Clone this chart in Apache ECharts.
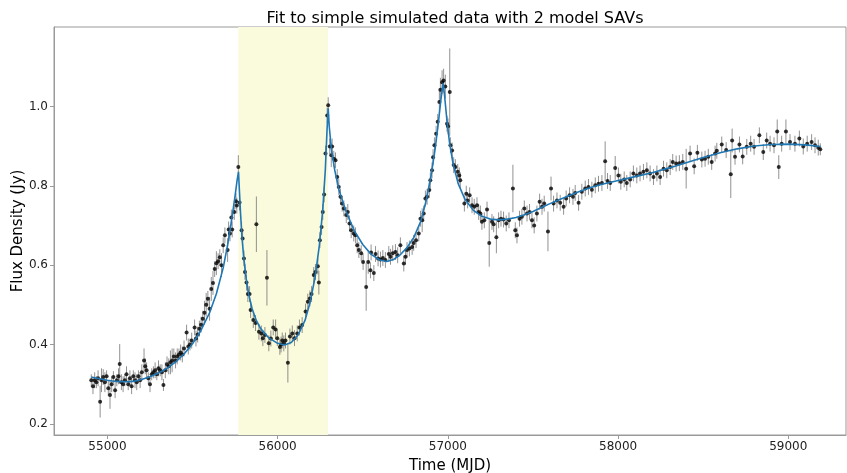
<!DOCTYPE html>
<html>
<head>
<meta charset="utf-8">
<script src="https://cdn.jsdelivr.net/npm/echarts@6/dist/echarts.min.js"></script>
<style>
  html, body { margin: 0; padding: 0; background: #fff; }
  #chart { width: 847px; height: 473px; }
</style>
</head>
<body>
<div id="chart"></div>
<script>
// tick positions
const xTicks = [55000, 56000, 57000, 58000, 59000]
const yTicks = [0.2, 0.4, 0.6, 0.8, 1.0]

// shaded window (MJD)
const spanStart = 55769
const spanEnd = 56295

// model fit: [mjd, flux]
const fitCurve = [
  [54905, 0.318], [54960, 0.313], [55000, 0.310], [55050, 0.307], [55100, 0.306], [55150, 0.307],
  [55200, 0.312], [55250, 0.319], [55300, 0.328], [55350, 0.340], [55400, 0.356], [55450, 0.376],
  [55500, 0.402], [55550, 0.436], [55600, 0.480], [55640, 0.528], [55680, 0.593], [55710, 0.660],
  [55730, 0.715], [55750, 0.775], [55762, 0.815], [55770, 0.835], [55775, 0.790], [55782, 0.730],
  [55790, 0.672], [55800, 0.622], [55815, 0.566], [55830, 0.526], [55850, 0.490], [55875, 0.460],
  [55900, 0.440], [55950, 0.416], [56000, 0.403], [56040, 0.399], [56080, 0.405], [56120, 0.424],
  [56160, 0.460], [56190, 0.505], [56220, 0.570], [56245, 0.650], [56265, 0.740], [56280, 0.840],
  [56290, 0.940], [56297, 0.995], [56303, 0.950], [56315, 0.895], [56335, 0.840], [56360, 0.790],
  [56400, 0.737], [56450, 0.687], [56500, 0.652], [56550, 0.627], [56600, 0.613], [56640, 0.609],
  [56680, 0.614], [56720, 0.626], [56760, 0.644], [56800, 0.670], [56840, 0.710], [56870, 0.758],
  [56900, 0.822], [56925, 0.892], [56945, 0.962], [56960, 1.020], [56972, 1.058], [56980, 1.030],
  [56995, 0.962], [57010, 0.908], [57030, 0.857], [57060, 0.806], [57100, 0.766], [57150, 0.738],
  [57200, 0.723], [57250, 0.716], [57300, 0.714], [57350, 0.716], [57400, 0.720], [57450, 0.727],
  [57500, 0.735], [57550, 0.745], [57600, 0.755], [57650, 0.764], [57700, 0.773], [57750, 0.782],
  [57800, 0.790], [57850, 0.797], [57900, 0.803], [57950, 0.808], [58000, 0.813], [58100, 0.823],
  [58200, 0.833], [58300, 0.845], [58400, 0.858], [58500, 0.871], [58600, 0.883], [58700, 0.893],
  [58800, 0.900], [58900, 0.904], [59000, 0.905], [59100, 0.903], [59190, 0.899]
]

// simulated observations: [mjd, flux, error]
const obsQuiet = [
  [54905, 0.31, 0.015], [54915, 0.295, 0.02], [54925, 0.31, 0.02], [54935, 0.305, 0.015], [54945, 0.315, 0.02],
  [54957, 0.256, 0.04], [54965, 0.31, 0.03], [54975, 0.318, 0.02], [54985, 0.305, 0.025], [54995, 0.32, 0.015],
  [55005, 0.29, 0.02], [55015, 0.273, 0.035], [55025, 0.30, 0.02], [55035, 0.318, 0.015], [55045, 0.285, 0.02],
  [55055, 0.31, 0.015], [55065, 0.32, 0.02], [55072, 0.351, 0.05], [55082, 0.305, 0.02], [55092, 0.30, 0.02],
  [55102, 0.31, 0.015], [55112, 0.325, 0.02], [55122, 0.30, 0.015], [55132, 0.315, 0.02], [55142, 0.295, 0.02],
  [55152, 0.32, 0.015], [55162, 0.31, 0.02], [55172, 0.305, 0.02], [55182, 0.32, 0.015], [55192, 0.31, 0.02],
  [55202, 0.33, 0.02], [55215, 0.36, 0.03], [55222, 0.345, 0.02], [55230, 0.335, 0.02], [55240, 0.315, 0.015],
  [55250, 0.30, 0.02], [55260, 0.325, 0.015], [55270, 0.33, 0.015], [55280, 0.335, 0.02], [55290, 0.325, 0.015],
  [55300, 0.34, 0.02], [55310, 0.335, 0.015], [55320, 0.33, 0.02], [55329, 0.298, 0.015], [55340, 0.335, 0.02],
  [55350, 0.35, 0.02], [55360, 0.345, 0.02], [55370, 0.355, 0.03], [55380, 0.36, 0.03], [55390, 0.37, 0.02]
]
const obsFirstFlare = [
  [55400, 0.36, 0.02], [55410, 0.37, 0.02], [55420, 0.375, 0.015], [55430, 0.38, 0.02], [55440, 0.375, 0.02],
  [55450, 0.39, 0.02], [55465, 0.43, 0.02], [55475, 0.395, 0.02], [55485, 0.40, 0.015], [55495, 0.41, 0.02],
  [55512, 0.443, 0.02], [55520, 0.415, 0.02], [55530, 0.425, 0.02], [55540, 0.44, 0.02], [55550, 0.45, 0.02],
  [55560, 0.465, 0.02], [55570, 0.48, 0.03], [55580, 0.50, 0.03], [55590, 0.515, 0.02], [55600, 0.49, 0.03],
  [55610, 0.54, 0.03], [55620, 0.555, 0.03], [55630, 0.59, 0.02], [55640, 0.605, 0.03], [55650, 0.61, 0.02],
  [55660, 0.62, 0.02], [55670, 0.60, 0.03], [55680, 0.65, 0.02], [55690, 0.675, 0.02], [55706, 0.638, 0.03],
  [55712, 0.69, 0.02], [55720, 0.68, 0.02], [55728, 0.72, 0.02], [55733, 0.69, 0.02], [55745, 0.734, 0.02],
  [55755, 0.761, 0.02], [55760, 0.75, 0.02], [55769, 0.847, 0.03], [55776, 0.758, 0.02], [55788, 0.688, 0.02],
  [55794, 0.667, 0.02], [55802, 0.617, 0.02], [55808, 0.583, 0.02], [55817, 0.556, 0.02], [55825, 0.527, 0.02],
  [55835, 0.527, 0.02], [55841, 0.487, 0.02], [55857, 0.462, 0.02], [55870, 0.454, 0.02], [55875, 0.703, 0.07],
  [55890, 0.432, 0.02], [55904, 0.428, 0.02], [55913, 0.416, 0.02], [55925, 0.424, 0.02], [55937, 0.568, 0.07],
  [55948, 0.403, 0.02], [55960, 0.415, 0.02], [55974, 0.443, 0.02], [55988, 0.438, 0.025], [55998, 0.416, 0.02],
  [56013, 0.394, 0.02], [56020, 0.40, 0.02], [56027, 0.41, 0.02], [56036, 0.403, 0.02], [56046, 0.41, 0.02],
  [56060, 0.354, 0.05], [56072, 0.42, 0.02], [56086, 0.428, 0.02], [56099, 0.416, 0.02], [56115, 0.428, 0.02]
]
const obsSecondFlare = [
  [56128, 0.443, 0.02], [56144, 0.449, 0.02], [56164, 0.483, 0.02], [56177, 0.508, 0.02], [56189, 0.516, 0.02],
  [56199, 0.527, 0.02], [56212, 0.575, 0.02], [56222, 0.583, 0.02], [56236, 0.597, 0.02], [56242, 0.556, 0.03],
  [56248, 0.663, 0.02], [56258, 0.696, 0.02], [56265, 0.734, 0.02], [56273, 0.778, 0.02], [56281, 0.881, 0.02],
  [56291, 0.977, 0.02], [56297, 1.003, 0.02], [56306, 0.899, 0.02], [56315, 0.877, 0.03], [56320, 0.899, 0.02],
  [56330, 0.868, 0.02], [56340, 0.864, 0.02], [56350, 0.822, 0.02], [56359, 0.797, 0.02], [56369, 0.772, 0.02],
  [56379, 0.755, 0.02], [56389, 0.743, 0.02], [56403, 0.726, 0.02], [56412, 0.734, 0.02], [56422, 0.705, 0.02],
  [56432, 0.688, 0.02], [56447, 0.68, 0.02], [56457, 0.675, 0.02], [56467, 0.65, 0.02], [56477, 0.638, 0.02],
  [56491, 0.63, 0.02], [56502, 0.608, 0.02], [56520, 0.545, 0.06], [56532, 0.608, 0.03], [56545, 0.587, 0.02],
  [56549, 0.632, 0.02], [56565, 0.58, 0.02], [56575, 0.628, 0.02], [56590, 0.617, 0.02], [56604, 0.614, 0.02],
  [56618, 0.618, 0.02], [56633, 0.613, 0.02], [56653, 0.628, 0.02], [56663, 0.621, 0.02], [56676, 0.63, 0.02],
  [56692, 0.633, 0.02], [56705, 0.625, 0.02], [56721, 0.65, 0.02], [56741, 0.604, 0.02], [56751, 0.621, 0.02],
  [56760, 0.638, 0.02], [56774, 0.642, 0.02], [56790, 0.646, 0.02], [56799, 0.656, 0.02], [56813, 0.663, 0.02]
]
const obsThirdFlare = [
  [56829, 0.68, 0.02], [56839, 0.717, 0.02], [56849, 0.713, 0.03], [56858, 0.73, 0.02], [56868, 0.768, 0.02],
  [56878, 0.772, 0.02], [56891, 0.789, 0.02], [56897, 0.814, 0.02], [56907, 0.839, 0.02], [56913, 0.872, 0.02],
  [56921, 0.902, 0.02], [56931, 0.931, 0.02], [56940, 0.961, 0.02], [56950, 1.011, 0.03], [56956, 1.042, 0.03],
  [56966, 1.061, 0.03], [56975, 1.065, 0.03], [56985, 1.05, 0.03], [56995, 0.956, 0.02], [57001, 0.95, 0.02],
  [57011, 1.036, 0.11], [57015, 0.902, 0.02], [57025, 0.889, 0.02], [57034, 0.852, 0.02], [57044, 0.847, 0.02],
  [57058, 0.835, 0.02], [57067, 0.826, 0.02], [57073, 0.814, 0.02], [57097, 0.755, 0.02], [57108, 0.78, 0.02],
  [57116, 0.763, 0.02], [57128, 0.776, 0.02], [57142, 0.751, 0.02], [57155, 0.747, 0.02], [57171, 0.751, 0.02],
  [57181, 0.734, 0.02], [57191, 0.73, 0.02], [57200, 0.709, 0.02], [57214, 0.713, 0.02], [57230, 0.74, 0.02],
  [57243, 0.656, 0.06], [57259, 0.709, 0.02], [57269, 0.703, 0.02], [57285, 0.67, 0.04], [57298, 0.713, 0.02],
  [57312, 0.717, 0.02], [57327, 0.715, 0.02], [57343, 0.705, 0.02], [57359, 0.713, 0.02], [57382, 0.793, 0.06]
]
const obsLongRise = [
  [57396, 0.688, 0.02], [57406, 0.675, 0.02], [57421, 0.717, 0.02], [57435, 0.722, 0.02], [57449, 0.743, 0.02],
  [57465, 0.73, 0.02], [57480, 0.734, 0.02], [57494, 0.713, 0.02], [57507, 0.70, 0.02], [57523, 0.73, 0.02],
  [57539, 0.76, 0.02], [57553, 0.747, 0.02], [57566, 0.755, 0.02], [57588, 0.685, 0.05], [57606, 0.793, 0.03],
  [57621, 0.755, 0.02], [57641, 0.763, 0.02], [57660, 0.757, 0.02], [57680, 0.747, 0.02], [57695, 0.768, 0.02],
  [57715, 0.776, 0.02], [57735, 0.772, 0.02], [57748, 0.782, 0.02], [57768, 0.757, 0.02], [57787, 0.785, 0.02],
  [57807, 0.793, 0.02], [57826, 0.797, 0.02], [57846, 0.79, 0.02], [57866, 0.801, 0.02], [57885, 0.805, 0.02],
  [57905, 0.807, 0.02], [57924, 0.862, 0.05], [57938, 0.812, 0.02], [57954, 0.807, 0.02], [57983, 0.845, 0.03],
  [58002, 0.826, 0.02], [58016, 0.81, 0.02], [58036, 0.816, 0.02], [58051, 0.807, 0.02], [58071, 0.816, 0.02],
  [58090, 0.831, 0.02], [58110, 0.826, 0.02], [58129, 0.831, 0.02], [58149, 0.835, 0.02], [58169, 0.839, 0.02],
  [58188, 0.831, 0.02], [58208, 0.822, 0.02], [58228, 0.831, 0.02], [58247, 0.822, 0.02], [58267, 0.843, 0.02]
]
const obsPlateau = [
  [58286, 0.839, 0.02], [58306, 0.847, 0.02], [58321, 0.86, 0.02], [58341, 0.856, 0.02], [58360, 0.857, 0.02],
  [58380, 0.86, 0.02], [58400, 0.843, 0.05], [58423, 0.881, 0.02], [58447, 0.849, 0.02], [58466, 0.883, 0.02],
  [58492, 0.866, 0.02], [58511, 0.868, 0.02], [58530, 0.873, 0.02], [58550, 0.86, 0.02], [58570, 0.881, 0.02],
  [58580, 0.888, 0.02], [58609, 0.904, 0.02], [58635, 0.89, 0.02], [58662, 0.829, 0.06], [58670, 0.914, 0.03],
  [58687, 0.873, 0.02], [58713, 0.904, 0.02], [58732, 0.874, 0.02], [58756, 0.898, 0.02], [58779, 0.906, 0.02],
  [58799, 0.898, 0.02], [58830, 0.927, 0.02], [58853, 0.885, 0.02], [58873, 0.914, 0.02], [58893, 0.906, 0.02],
  [58916, 0.902, 0.02], [58935, 0.937, 0.03], [58944, 0.847, 0.03], [58961, 0.906, 0.02], [58986, 0.937, 0.03],
  [59010, 0.91, 0.02], [59039, 0.906, 0.02], [59065, 0.919, 0.02], [59088, 0.899, 0.02], [59111, 0.906, 0.02],
  [59137, 0.91, 0.02], [59157, 0.902, 0.02], [59176, 0.896, 0.02], [59188, 0.892, 0.015]
]

const observations = [].concat(obsQuiet, obsFirstFlare, obsSecondFlare, obsThirdFlare, obsLongRise, obsPlateau)

const font = 'DejaVu Sans'
const frameColor = '#9a9a9a'

function renderErrorBar(params, api) {
  const x = api.value(0)
  const y = api.value(1)
  const e = api.value(2)
  const hi = api.coord([x, y + e])
  const lo = api.coord([x, y - e])
  return {
    type: 'line',
    shape: {x1: hi[0], y1: hi[1], x2: lo[0], y2: lo[1]},
    style: {stroke: 'rgba(110,110,110,0.75)', lineWidth: 1}
  }
}

const chart = echarts.init(document.getElementById('chart'), null, {renderer: 'canvas'})
chart.setOption({
  animation: false,
  backgroundColor: '#ffffff',
  title: {
    text: 'Fit to simple simulated data with 2 model SAVs',
    left: 450,
    textAlign: 'center',
    top: 6,
    textStyle: {fontFamily: font, fontSize: 16, fontWeight: 'normal', color: '#000'}
  },
  grid: {
    left: 54, right: 1, top: 27, bottom: 38,
    containLabel: false,
    outerBoundsMode: 'none',
    show: true, borderColor: frameColor, borderWidth: 1, backgroundColor: 'transparent'
  },
  xAxis: {
    type: 'value',
    min: 54686, max: 59339,
    name: 'Time (MJD)',
    nameLocation: 'middle',
    nameGap: 24,
    nameTextStyle: {fontFamily: font, fontSize: 15, color: '#000'},
    axisLine: {show: true, onZero: false, lineStyle: {color: frameColor}},
    axisTick: {show: true, length: 4, lineStyle: {color: frameColor}, customValues: xTicks},
    axisLabel: {
      fontFamily: font, fontSize: 12, color: '#222', margin: 6, customValues: xTicks,
      formatter: v => String(v)
    },
    splitLine: {show: false}
  },
  yAxis: {
    type: 'value',
    min: 0.172, max: 1.2,
    name: 'Flux Density (Jy)',
    nameLocation: 'middle',
    nameGap: 28,
    nameMoveOverlap: false,
    nameTextStyle: {fontFamily: font, fontSize: 15, color: '#000'},
    axisLine: {show: true, onZero: false, lineStyle: {color: frameColor}},
    axisTick: {show: true, length: 4, lineStyle: {color: frameColor}, customValues: yTicks},
    axisLabel: {
      fontFamily: font, fontSize: 12, color: '#222', margin: 6, customValues: yTicks,
      formatter: v => v.toFixed(1)
    },
    splitLine: {show: false}
  },
  series: [
    {
      // shaded window
      type: 'line',
      data: [],
      z: 0,
      silent: true,
      markArea: {
        silent: true,
        itemStyle: {color: '#fafadc'},
        data: [[{xAxis: spanStart}, {xAxis: spanEnd}]]
      }
    },
    {
      type: 'custom',
      renderItem: renderErrorBar,
      data: observations,
      z: 2,
      silent: true
    },
    {
      type: 'scatter',
      data: observations.map(d => [d[0], d[1]]),
      symbol: 'circle',
      symbolSize: 4,
      itemStyle: {color: '#000'},
      z: 3,
      silent: true
    },
    {
      type: 'line',
      data: fitCurve,
      showSymbol: false,
      lineStyle: {color: '#1f77b4', width: 1.6},
      z: 4,
      silent: true
    }
  ]
})
</script>
</body>
</html>
